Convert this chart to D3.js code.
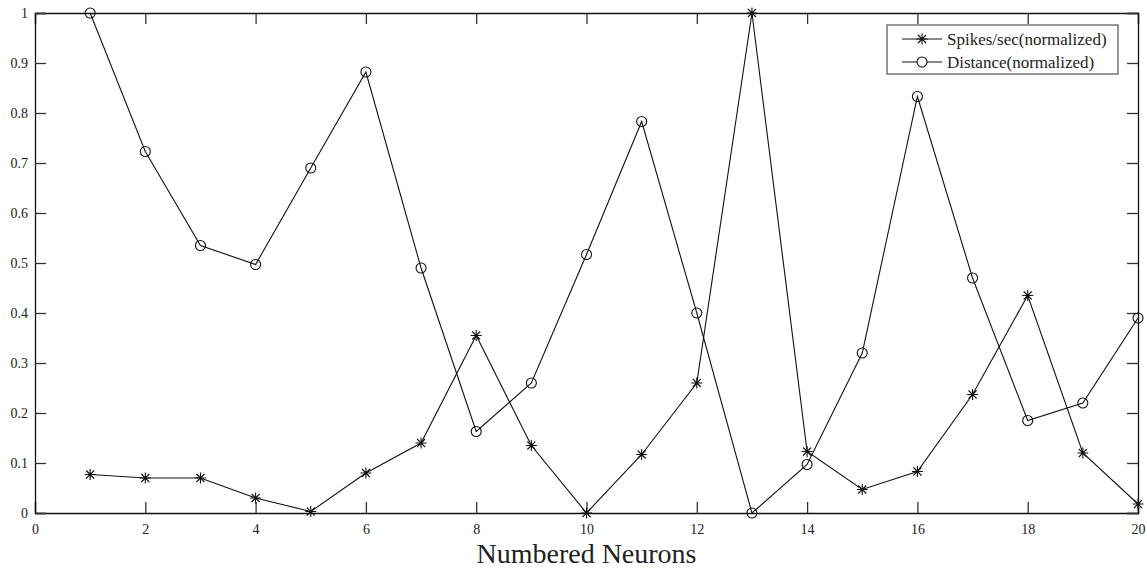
<!DOCTYPE html>
<html lang="en">
<head>
<meta charset="UTF-8">
<title>Numbered Neurons</title>
<script src="https://cdn.jsdelivr.net/npm/d3@7/dist/d3.min.js"></script>
<style>
  body { margin: 0; background: #fff; }
  svg text { font-family: "Liberation Serif", "Times New Roman", serif; fill: #222; }
</style>
</head>
<body>
<svg></svg>
<script>
// data
let neurons = d3.range(1, 21);
let spikes = [0.077, 0.07, 0.07, 0.03, 0.003, 0.08, 0.14, 0.355, 0.135, 0.0,
              0.117, 0.26, 1.0, 0.123, 0.047, 0.083, 0.237, 0.435, 0.12, 0.018];
let distance = [1.0, 0.723, 0.535, 0.497, 0.69, 0.882, 0.49, 0.163, 0.26, 0.517,
                0.783, 0.4, 0.0, 0.097, 0.32, 0.833, 0.47, 0.185, 0.22, 0.39];
let xTicks = d3.range(0, 21, 2);
let yTicks = d3.range(0, 11).map(d => d / 10);
let seriesNames = ["Spikes/sec(normalized)", "Distance(normalized)"];

let width = 1147, height = 569;
let plotL = 35, plotR = 1138, plotT = 13, plotB = 513;
let serif = "Liberation Serif, Times New Roman, serif";

let svg = d3.select("svg").attr("width", width).attr("height", height);

let x = d3.scaleLinear().domain([0, 20]).range([plotL, plotR]);
let y = d3.scaleLinear().domain([0, 1]).range([plotB, plotT]);

// axes, ticks pointing inward
let fmt = d => d === 0 ? "0" : (d === 1 ? "1" : d3.format(".1f")(d));
svg.append("g").attr("transform", `translate(0,${plotB})`)
    .call(d3.axisBottom(x).tickValues(xTicks).tickSize(-11).tickPadding(11).tickFormat(d3.format("d")));
svg.append("g").attr("transform", `translate(0,${plotT})`)
    .call(d3.axisTop(x).tickValues(xTicks).tickSize(-11).tickFormat(""));
svg.append("g").attr("transform", `translate(${plotL},0)`)
    .call(d3.axisLeft(y).tickValues(yTicks).tickSize(-11).tickPadding(7).tickFormat(fmt));
svg.append("g").attr("transform", `translate(${plotR},0)`)
    .call(d3.axisRight(y).tickValues(yTicks).tickSize(-11).tickFormat(""));

svg.selectAll(".domain").attr("stroke", "#111").attr("stroke-width", 1.3);
svg.selectAll(".tick line").attr("stroke", "#333").attr("stroke-width", 1.3);
svg.selectAll(".tick text").attr("font-size", 14).attr("font-family", serif).attr("fill", "#222");

// lines
let line = d3.line().x((d, i) => x(neurons[i])).y(d => y(d));
svg.append("path").datum(spikes).attr("d", line)
    .attr("fill", "none").attr("stroke", "#111").attr("stroke-width", 1.1);
svg.append("path").datum(distance).attr("d", line)
    .attr("fill", "none").attr("stroke", "#111").attr("stroke-width", 1.1);

// star marker: + and x overlaid
let star = d3.path();
let s = 5.5, sd = 4;
star.moveTo(0, -s); star.lineTo(0, s);
star.moveTo(-s, 0); star.lineTo(s, 0);
star.moveTo(-sd, -sd); star.lineTo(sd, sd);
star.moveTo(-sd, sd); star.lineTo(sd, -sd);
let starPath = star.toString();

svg.append("g").selectAll("path").data(spikes).enter().append("path")
    .attr("d", starPath)
    .attr("transform", (d, i) => `translate(${x(neurons[i])},${y(d)})`)
    .attr("stroke", "#111").attr("stroke-width", 1.1).attr("fill", "none");

svg.append("g").selectAll("circle").data(distance).enter().append("circle")
    .attr("cx", (d, i) => x(neurons[i])).attr("cy", d => y(d)).attr("r", 5)
    .attr("stroke", "#111").attr("stroke-width", 1.1).attr("fill", "none");

// x label
svg.append("text").attr("x", (plotL + plotR) / 2).attr("y", 563)
    .attr("text-anchor", "middle").attr("font-size", 28).text("Numbered Neurons");

// legend
let lg = svg.append("g");
lg.append("rect").attr("x", 887).attr("y", 25).attr("width", 231).attr("height", 49)
    .attr("fill", "#fff").attr("stroke", "#333").attr("stroke-width", 1);
[0, 1].forEach(i => {
    let ly = 39 + i * 23;
    lg.append("line").attr("x1", 902).attr("x2", 942).attr("y1", ly).attr("y2", ly)
        .attr("stroke", "#111").attr("stroke-width", 1.1);
    if (i === 0) {
        lg.append("path").attr("d", starPath).attr("transform", `translate(922,${ly})`)
            .attr("stroke", "#111").attr("stroke-width", 1.1).attr("fill", "none");
    } else {
        lg.append("circle").attr("cx", 922).attr("cy", ly).attr("r", 5)
            .attr("stroke", "#111").attr("stroke-width", 1.1).attr("fill", "#fff");
    }
    lg.append("text").attr("x", 947).attr("y", ly).attr("dy", "0.35em")
        .attr("font-size", 17).text(seriesNames[i]);
});
</script>
</body>
</html>
